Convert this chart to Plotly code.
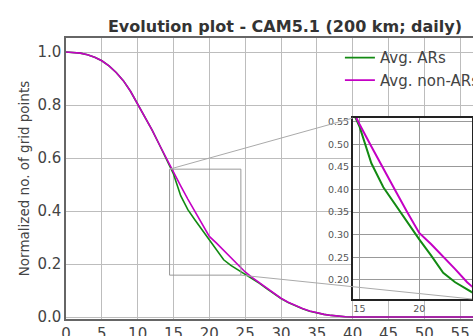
import plotly.graph_objects as go

# ---- data ----
days = list(range(0, 61))
non_ar = [1.000, 0.999, 0.996, 0.990, 0.980, 0.967, 0.948, 0.923, 0.892, 0.852,
          0.805, 0.757, 0.706, 0.652, 0.598, 0.545, 0.495, 0.445, 0.398, 0.350,
          0.304, 0.279, 0.252, 0.224, 0.195, 0.170, 0.149, 0.129, 0.109, 0.089,
          0.071, 0.056, 0.043, 0.032, 0.023, 0.016, 0.010, 0.006, 0.003, 0.001,
          0.000] + [0.0] * 20
ar = [1.000, 0.999, 0.996, 0.990, 0.980, 0.967, 0.948, 0.923, 0.892, 0.852,
      0.805, 0.757, 0.706, 0.652, 0.598, 0.540, 0.458, 0.405, 0.366, 0.328,
      0.290, 0.254, 0.216, 0.195, 0.178, 0.162, 0.146, 0.127, 0.107, 0.088,
      0.070, 0.055, 0.042, 0.031, 0.022, 0.015, 0.010, 0.006, 0.003, 0.001,
      0.000] + [0.0] * 20
series_names = ["Avg. ARs", "Avg. non-ARs"]
title = "Evolution plot - CAM5.1 (200 km; daily)"
ylabel = "Normalized no. of grid points"

# ---- styles ----
GREEN = "#138a13"
MAG = "#c400c4"
FONT = "DejaVu Sans"
main_xr = [0, 60]
main_yr = [-0.0075, 1.053]
zoom_x = [14.45, 24.4]
zoom_y = [0.158, 0.558]
inset_dx = [0.667, 0.944]
inset_dy = [0.0712, 0.715]

fig = go.Figure()
for vals, name, col in [(ar, series_names[0], GREEN), (non_ar, series_names[1], MAG)]:
    fig.add_trace(go.Scatter(x=days, y=vals, mode="lines", name=name,
                             line=dict(color=col, width=1.6), xaxis="x", yaxis="y",
                             legendgroup=name))
for vals, name, col in [(ar, series_names[0], GREEN), (non_ar, series_names[1], MAG)]:
    fig.add_trace(go.Scatter(x=days, y=vals, mode="lines", name=name, showlegend=False,
                             line=dict(color=col, width=2), xaxis="x2", yaxis="y2"))

def to_paper(x, y):
    return ((x - main_xr[0]) / (main_xr[1] - main_xr[0]),
            (y - main_yr[0]) / (main_yr[1] - main_yr[0]))

shapes = [dict(type="rect", xref="x", yref="y", x0=zoom_x[0], x1=zoom_x[1],
               y0=zoom_y[0], y1=zoom_y[1], line=dict(color="#999999", width=1))]
p1 = to_paper(zoom_x[0], zoom_y[1])
p2 = to_paper(zoom_x[1], zoom_y[0])
shapes.append(dict(type="line", xref="paper", yref="paper", x0=p1[0], y0=p1[1],
                   x1=inset_dx[0], y1=inset_dy[1], line=dict(color="#aaaaaa", width=1)))
shapes.append(dict(type="line", xref="paper", yref="paper", x0=p2[0], y0=p2[1],
                   x1=inset_dx[1], y1=inset_dy[0], line=dict(color="#aaaaaa", width=1)))

fig.update_layout(
    template="none",
    width=500, height=336,
    margin=dict(l=66, r=4, t=38, b=17),
    paper_bgcolor="white", plot_bgcolor="white",
    font=dict(family=FONT, color="#444444", size=15),
    title=dict(text="<b>" + title + "</b>", x=0.570, xanchor="center", y=0.92,
               yanchor="middle", font=dict(size=16, color="#333333")),
    xaxis=dict(range=main_xr, dtick=5, tick0=0, showgrid=True, gridcolor="#bdbdbd",
               gridwidth=1, showline=True, mirror=True, linecolor="#666666", linewidth=1.5,
               zeroline=False, ticks="", tickfont=dict(size=15, color="#444444"),
               domain=[0, 1], automargin=False),
    yaxis=dict(range=main_yr, tickvals=[0, 0.2, 0.4, 0.6, 0.8, 1.0], tickformat=".1f",
               showgrid=True, gridcolor="#bdbdbd", gridwidth=1, showline=True, mirror=True,
               linecolor="#666666", linewidth=1.5, zeroline=False, ticks="",
               tickfont=dict(size=15, color="#444444"),
               title=dict(text=ylabel, font=dict(size=13.5, color="#444444")),
               domain=[0, 1], automargin=False),
    xaxis2=dict(domain=inset_dx, anchor="y2", range=zoom_x, tickvals=[15, 20],
                showgrid=True, gridcolor="#999999", gridwidth=1, showline=True, mirror=True,
                linecolor="#222222", linewidth=1.5, zeroline=False, ticks="",
                tickfont=dict(size=9.5, color="#555555"), automargin=False),
    yaxis2=dict(domain=inset_dy, anchor="x2", range=zoom_y,
                tickvals=[0.20, 0.25, 0.30, 0.35, 0.40, 0.45, 0.50, 0.55], tickformat=".2f",
                showgrid=True, gridcolor="#999999", gridwidth=1, showline=True, mirror=True,
                linecolor="#222222", linewidth=1.5, zeroline=False, ticks="",
                tickfont=dict(size=9.5, color="#555555"), automargin=False),
    legend=dict(x=0.637, y=0.988, xanchor="left", yanchor="top",
                bgcolor="rgba(0,0,0,0)", font=dict(size=15, color="#444444"),
                tracegroupgap=0, traceorder="grouped"),
    shapes=shapes,
    showlegend=True,
)

fig.write_html("out.html")
